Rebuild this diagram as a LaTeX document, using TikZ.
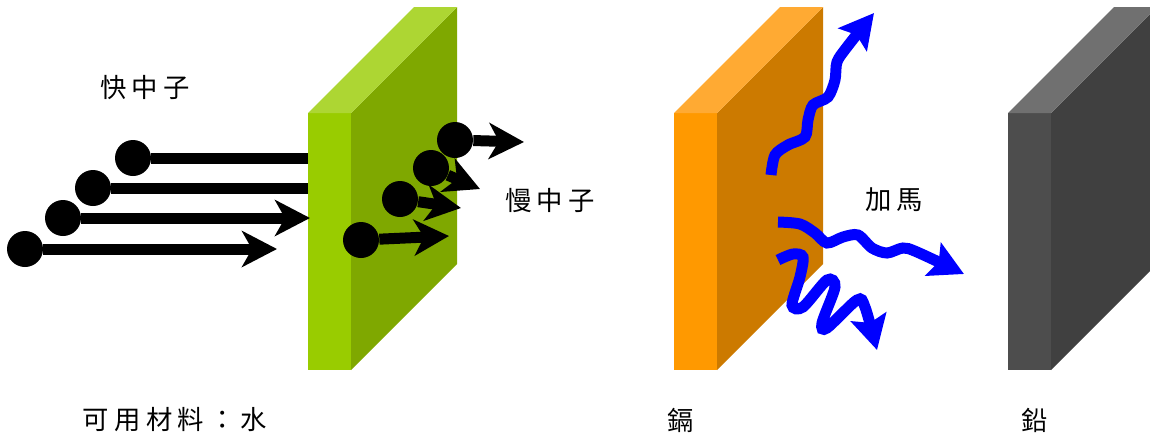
\documentclass[tikz,border=0pt]{standalone}
\usepackage{fontspec}
\usetikzlibrary{arrows.meta}
\newfontfamily\cjk[LetterSpace=20]{Noto Sans CJK TC}
\definecolor{waterfront}{HTML}{99CC00}
\definecolor{waterside}{HTML}{7FA800}
\definecolor{watertop}{HTML}{ADD633}
\definecolor{cdfront}{HTML}{FF9900}
\definecolor{cdside}{HTML}{CC7A00}
\definecolor{cdtop}{HTML}{FFAA33}
\definecolor{pbfront}{HTML}{4D4D4D}
\definecolor{pbside}{HTML}{404040}
\definecolor{pbtop}{HTML}{707070}

\begin{document}
\begin{tikzpicture}[x=0.02cm,y=-0.02cm,
        ball/.style={circle,fill=black,inner sep=0pt,minimum size=0.72cm},
        ray/.style={line width=0.22cm,
                    -{Stealth[length=0.7cm,width=0.72cm,inset=0.2cm]}},
        gamma/.style={blue,line width=0.22cm,
                    -{Stealth[length=0.68cm,width=0.72cm,inset=0.12cm]}},
        txt/.style={font=\cjk\fontsize{15}{18}\selectfont}]
      \clip (0,0) rectangle (1150,437);
      % fast neutrons, the top two run behind the slab
      \node[ball] (fast1) at (133,158) {};
      \node[ball] (fast2) at (93,188)  {};
      \node[ball] (fast3) at (63,218)  {};
      \node[ball] (fast4) at (25,249)  {};
      \coordinate (stop1) at (330,158);
      \coordinate (stop2) at (330,188);
      \coordinate (hit3)  at (310,218);
      \coordinate (hit4)  at (277,249);
      \draw[line width=0.22cm] (fast1) -- (stop1);
      \draw[line width=0.22cm] (fast2) -- (stop2);
      % slabs: front, side, top
      \foreach \x/\f/\s/\t in {308/waterfront/waterside/watertop,
                               674/cdfront/cdside/cdtop,
                               1008/pbfront/pbside/pbtop}{
        \fill[\f] (\x,113) rectangle (\x+43,370);
        \fill[\s] (\x+43,113) -- (\x+149,7) -- (\x+149,264) -- (\x+43,370) -- cycle;
        \fill[\t] (\x,113) -- (\x+106,7) -- (\x+149,7) -- (\x+43,113) -- cycle;
      }
      \draw[ray] (fast3) -- (hit3);
      \draw[ray] (fast4) -- (hit4);
      % slow neutrons
      \node[ball] (slow1) at (455,140) {};
      \node[ball] (slow2) at (431,168) {};
      \node[ball] (slow3) at (400,199) {};
      \node[ball] (slow4) at (361,240) {};
      \coordinate (out1) at (524,142);
      \coordinate (out2) at (480,189);
      \coordinate (out3) at (461,208);
      \coordinate (out4) at (449,236);
      \draw[ray] (slow1) -- (out1);
      \draw[ray] (slow2) -- (out2);
      \draw[ray] (slow3) -- (out3);
      \draw[ray] (slow4) -- (out4);
      % gamma rays
      \coordinate (g1) at (771,175);
      \coordinate (g1end) at (874,13);
      \coordinate (g2) at (778,222);
      \coordinate (g2end) at (964,274);
      \coordinate (g3) at (778,260);
      \coordinate (g3end) at (877,350);
      \draw[gamma] plot[smooth] coordinates {(g1) (775,155) (788,145) (805,137)
        (808,120) (813,105) (828,97) (835,80) (837,62) (847,47) (g1end)};
      \draw[gamma] plot[smooth] coordinates {(g2) (800,224) (815,233) (827,243)
        (843,237) (858,235) (872,248) (887,253) (903,248) (917,252) (g2end)};
      \draw[gamma] plot[smooth] coordinates {(g3) (793,254) (803,257) (800,277)
        (792,305) (803,307) (827,280) (835,287) (822,323) (827,328)
        (857,300) (865,307) (g3end)};
      % labels
      \node[txt] (fast)  at (145,88)  {快中子};
      \node[txt] (slow)  at (550,201) {慢中子};
      \node[txt] (gam)   at (894,200) {加馬};
      \node[txt] (water) at (175,420) {可用材料：水};
      \node[txt] (cd)    at (681,420) {鎘};
      \node[txt] (pb)    at (1035,420) {鉛};
    \end{tikzpicture}
\end{document}
